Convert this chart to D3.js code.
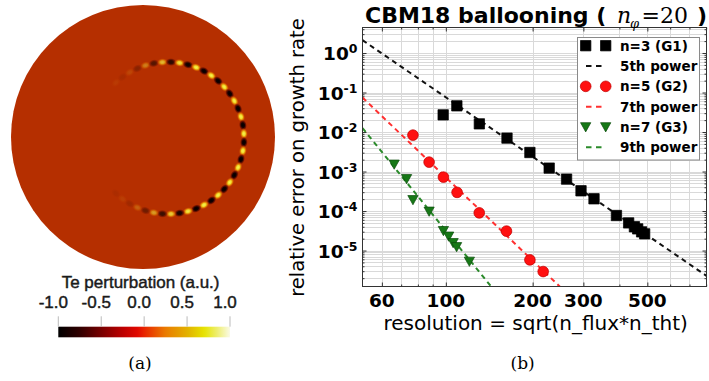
<!DOCTYPE html>
<html><head><meta charset="utf-8">
<script src="https://cdn.jsdelivr.net/npm/d3@7"></script>
<style>html,body{margin:0;padding:0;background:#fff;}svg{display:block;}</style>
</head><body>
<svg id="chart" width="709" height="381"></svg>
<script>
// ================= DATA =================
// panel (b): relative error on growth rate vs resolution
const seriesNames = ["n=3 (G1)", "n=5 (G2)", "n=7 (G3)"];
const fitNames = ["5th power", "7th power", "9th power"];
const g1Res = [97.9, 109.2, 130.7, 163, 195.7, 228.3, 262.3, 294.4, 326.6, 390.7, 430.7, 451, 462.9, 477.7, 489.4];
const g1Err = [0.0272, 0.046, 0.0161, 0.00701, 0.00303, 0.00122, 0.000642, 0.000325, 0.000204, 7.7e-5, 5.0e-5, 4.0e-5, 3.54e-5, 2.97e-5, 2.65e-5];
const g2Res = [76.9, 87.5, 98.1, 109.4, 130.6, 162.3, 195.7, 217.6];
const g2Err = [0.00835, 0.00173, 0.000722, 0.000297, 9.0e-5, 3.1e-5, 5.8e-6, 2.94e-6];
const g3Res = [66.2, 73.1, 76.9, 87.5, 98.1, 102.3, 106.0, 109.0, 120.7];
const g3Err = [0.00152, 0.000653, 0.000192, 9.8e-5, 3.16e-5, 2.29e-5, 1.57e-5, 1.24e-5, 5.3e-6];
// dashed power-law guide lines (end points)
const fit5Res = [51.4, 802];  const fit5Err = [2.11, 2.29e-6];
const fit7Res = [51.4, 260];  const fit7Err = [0.0747, 8.9e-7];
const fit9Res = [51.4, 150];  const fit9Err = [0.01256, 8.3e-7];
const xDomain = [51.4, 802];
const yDomain = [1.23e-6, 4.42];
const xTickValues = [60, 100, 200, 300, 500];
const yTickExponents = [0, -1, -2, -3, -4, -5];

// panel (a): Te perturbation blobs along the ballooning ring (value per blob)
const blobValues = [0.06, -0.08, 0.12, -0.25, 0.4, -0.55, 0.7, -0.8, 0.9, -0.95,
  1, -1, 1, -1, 1, -1, 1, -1, 1, -1, 1, -1, 1, -1, 1, -1, 1, -1, 1, -1, 1, -1,
  0.95, -0.9, 0.8, -0.7, 0.55, -0.4, 0.25, -0.12, 0.08, -0.06];
const blobAngleRange = [-133.25, 133.25];
const cbarTicks = [-1, -0.5, 0, 0.5, 1];
const cbarLabels = ["-1.0", "-0.5", "0.0", "0.5", "1.0"];
const cmapValues = [-1, -0.75, -0.5, -0.25, -0.08, 0, 0.25, 0.5, 0.7, 0.85, 1];
const cmapColors = ["#000000", "#300000", "#780000", "#bc0000", "#e00800", "#e82400", "#ea7c00", "#e2b000", "#e6e400", "#eeee70", "#fafae6"];

// ================= DRAW =================
const svg = d3.select("#chart");
const defs = svg.append("defs");

// ---------- panel (a) ----------
const diskColor = "#b52f00";
svg.append("circle").attr("cx", 143).attr("cy", 137).attr("r", 132).attr("fill", diskColor);

const pos = defs.append("radialGradient").attr("id", "gpos");
[["0%", "#f8f25a", 1], ["35%", "#f0dc28", 1], ["65%", "#e68000", 0.75], ["100%", diskColor, 0]]
  .forEach(s => pos.append("stop").attr("offset", s[0]).attr("stop-color", s[1]).attr("stop-opacity", s[2]));
const neg = defs.append("radialGradient").attr("id", "gneg");
[["0%", "#000000", 1], ["40%", "#160000", 1], ["70%", "#5a0800", 0.7], ["100%", diskColor, 0]]
  .forEach(s => neg.append("stop").attr("offset", s[0]).attr("stop-color", s[1]).attr("stop-opacity", s[2]));

const ringC = [168, 138], ringR = 76;
const angle = d3.scaleLinear().domain([0, blobValues.length - 1]).range(blobAngleRange);
svg.append("g").selectAll("ellipse").data(blobValues).join("ellipse")
  .attr("transform", (v, i) => {
    const a = angle(i) * Math.PI / 180;
    return `translate(${ringC[0] + ringR * Math.cos(a)},${ringC[1] + ringR * Math.sin(a)}) rotate(${angle(i) + 90})`;
  })
  .attr("rx", 5.8).attr("ry", 4.2)
  .attr("fill", v => v > 0 ? "url(#gpos)" : "url(#gneg)")
  .attr("fill-opacity", v => Math.abs(v));

// colorbar
const cbFont = "Liberation Sans, Arial, sans-serif";
const cb = d3.scaleLinear().domain([-1, 1]).range([58.3, 230]);
const cmap = d3.scaleLinear().domain(cmapValues).range(cmapColors);
const lg = defs.append("linearGradient").attr("id", "cbar");
d3.range(0, 1.0001, 0.02).forEach(t => lg.append("stop").attr("offset", t).attr("stop-color", cmap(-1 + 2 * t)));
svg.append("rect").attr("x", cb(-1)).attr("y", 326.7).attr("width", cb(1) - cb(-1)).attr("height", 10.6).attr("fill", "url(#cbar)");
svg.append("g").selectAll("line").data(cbarTicks).join("line")
  .attr("x1", d => cb(d)).attr("x2", d => cb(d)).attr("y1", 316.3).attr("y2", 326.7)
  .attr("stroke", "#bbbbbb").attr("stroke-width", 1);
svg.append("g").selectAll("text").data(cbarTicks).join("text")
  .attr("x", d => cb(d) - 5).attr("y", 308.3).attr("text-anchor", "middle")
  .attr("font-family", cbFont).attr("font-size", 17).attr("fill", "#1a1a1a")
  .attr("stroke", "#1a1a1a").attr("stroke-width", 0.45)
  .text((d, i) => cbarLabels[i]);
svg.append("text").attr("x", 61.7).attr("y", 288.3)
  .attr("font-family", cbFont).attr("font-size", 17).attr("fill", "#1a1a1a")
  .attr("stroke", "#1a1a1a").attr("stroke-width", 0.45)
  .text("Te perturbation (a.u.)");
svg.append("text").attr("x", 140).attr("y", 369).attr("text-anchor", "middle")
  .attr("font-family", "DejaVu Serif, serif").attr("font-size", 17).text("(a)");

// ---------- panel (b) ----------
const L = 362.5, R = 706.5, T = 27.5, B = 286.5;
const x = d3.scaleLog().domain(xDomain).range([L, R]);
const y = d3.scaleLog().domain(yDomain).range([B, T]);

defs.append("clipPath").attr("id", "plotclip").append("rect")
  .attr("x", L).attr("y", T).attr("width", R - L).attr("height", B - T);

svg.append("rect").attr("x", L).attr("y", T).attr("width", R - L).attr("height", B - T).attr("fill", "#fff");

// grid
const gx = x.ticks(), gy = y.ticks();
const grid = svg.append("g").attr("stroke", "#d9d9d9").attr("stroke-width", 1);
grid.selectAll("line.gx").data(gx).join("line").attr("class", "gx")
  .attr("x1", d => Math.round(x(d)) + 0.5).attr("x2", d => Math.round(x(d)) + 0.5).attr("y1", T).attr("y2", B);
grid.selectAll("line.gy").data(gy).join("line").attr("class", "gy")
  .attr("y1", d => Math.round(y(d)) + 0.5).attr("y2", d => Math.round(y(d)) + 0.5).attr("x1", L).attr("x2", R);

// inward ticks on all four sides via d3 axes
const isDecade = d => Math.abs(Math.log10(d) - Math.round(Math.log10(d))) < 1e-6;
function tickAxis(axisFn, scale, vals, len, tr) {
  const g = svg.append("g").attr("transform", tr)
    .call(axisFn(scale).tickValues(vals).tickSize(-len).tickFormat(""));
  g.select(".domain").remove();
  g.selectAll(".tick line").attr("stroke", "#333");
}
const xMaj = gx.filter(d => isDecade(d) || xTickValues.includes(d)), xMin = gx.filter(d => !xMaj.includes(d));
const yMaj = gy.filter(isDecade), yMin = gy.filter(d => !isDecade(d));
tickAxis(d3.axisBottom, x, xMaj, 4, `translate(0,${B})`);
tickAxis(d3.axisBottom, x, xMin, 2, `translate(0,${B})`);
tickAxis(d3.axisTop, x, xMaj, 4, `translate(0,${T})`);
tickAxis(d3.axisTop, x, xMin, 2, `translate(0,${T})`);
tickAxis(d3.axisLeft, y, yMaj, 4, `translate(${L},0)`);
tickAxis(d3.axisLeft, y, yMin, 2, `translate(${L},0)`);
tickAxis(d3.axisRight, y, yMaj, 4, `translate(${R},0)`);
tickAxis(d3.axisRight, y, yMin, 2, `translate(${R},0)`);

// fit lines
const line = d3.line().x(d => x(d[0])).y(d => y(d[1]));
const fits = [
  [d3.zip(fit5Res, fit5Err), "#111111"],
  [d3.zip(fit7Res, fit7Err), "#ff3030"],
  [d3.zip(fit9Res, fit9Err), "#2a8a2a"]
];
const plot = svg.append("g").attr("clip-path", "url(#plotclip)");
fits.forEach(f => plot.append("path").attr("d", line(f[0])).attr("fill", "none")
  .attr("stroke", f[1]).attr("stroke-width", 2).attr("stroke-dasharray", "5,4"));

// markers
const triDown = { draw(ctx, size) { const h = Math.sqrt(size); ctx.moveTo(-h / 2, -h * 0.42); ctx.lineTo(h / 2, -h * 0.42); ctx.lineTo(0, h * 0.48); ctx.closePath(); } };
const series = [
  { xs: g1Res, ys: g1Err, sym: d3.symbolSquare, size: 108, fill: "#000000", stroke: "#000000" },
  { xs: g2Res, ys: g2Err, sym: d3.symbolCircle, size: 90, fill: "#ff1010", stroke: "#c00000" },
  { xs: g3Res, ys: g3Err, sym: triDown, size: 105, fill: "#167816", stroke: "#0c4c0c" }
];
series.forEach(s => {
  plot.append("g").selectAll("path").data(d3.zip(s.xs, s.ys)).join("path")
    .attr("transform", d => `translate(${x(d[0])},${y(d[1])})`)
    .attr("d", d3.symbol(s.sym, s.size)())
    .attr("fill", s.fill).attr("stroke", s.stroke).attr("stroke-width", 0.7);
});

// frame
svg.append("rect").attr("x", L).attr("y", T).attr("width", R - L).attr("height", B - T)
  .attr("fill", "none").attr("stroke", "#333").attr("stroke-width", 1);

// tick labels
const sansB = "DejaVu Sans, sans-serif";
svg.append("g").selectAll("text").data(xTickValues).join("text")
  .attr("x", d => x(d)).attr("y", 306.7).attr("text-anchor", "middle")
  .attr("font-family", sansB).attr("font-weight", "bold").attr("font-size", 18.5).text(d => d);
const yl = svg.append("g").selectAll("text").data(yTickExponents).join("text")
  .attr("x", 357.5).attr("y", e => y(Math.pow(10, e)) + 7).attr("text-anchor", "end")
  .attr("font-family", sansB).attr("font-weight", "bold");
yl.append("tspan").attr("font-size", 18.5).text("10");
yl.append("tspan").attr("font-size", 12.5).attr("dy", -7).text(e => String(e));

// axis titles
svg.append("text").attr("transform", "translate(304,157.5) rotate(-90)").attr("text-anchor", "middle")
  .attr("font-family", sansB).attr("font-size", 19.6).text("relative error on growth rate");
svg.append("text").attr("x", 535.7).attr("y", 330).attr("text-anchor", "middle")
  .attr("font-family", sansB).attr("font-size", 20).text("resolution = sqrt(n_flux*n_tht)");

// title: bold sans part + math part (n_phi = 20)
const serif = "DejaVu Serif, serif";
const title = svg.append("text").attr("x", 365).attr("y", 22.7).attr("font-size", 22);
title.append("tspan").attr("font-family", sansB).attr("font-weight", "bold").text("CBM18 ballooning (");
title.append("tspan").attr("x", 617).attr("font-family", serif).attr("font-style", "italic").text("n");
title.append("tspan").attr("x", 630).attr("dy", 5.5).attr("font-family", serif).attr("font-style", "italic")
  .attr("font-size", 13).text("φ");
title.append("tspan").attr("x", 641.5).attr("dy", -5.5).attr("font-family", serif).text("=20");
title.append("tspan").attr("x", 697).attr("font-family", sansB).attr("font-weight", "bold").text(")");

// legend
const leg = svg.append("g");
leg.append("rect").attr("x", 577.5).attr("y", 37.5).attr("width", 122).attr("height", 122.5)
  .attr("fill", "#fff").attr("stroke", "#8a8a8a").attr("stroke-width", 1);
const rowY = d3.scaleLinear().domain([0, 5]).range([45.7, 147.3]);
const legItems = [
  { label: seriesNames[0], s: series[0] }, { label: fitNames[0], c: fits[0][1] },
  { label: seriesNames[1], s: series[1] }, { label: fitNames[1], c: fits[1][1] },
  { label: seriesNames[2], s: series[2] }, { label: fitNames[2], c: fits[2][1] }
];
legItems.forEach((it, i) => {
  const cy = rowY(i);
  if (it.s) {
    [585.7, 605.7].forEach(cx => leg.append("path").attr("transform", `translate(${cx},${cy})`)
      .attr("d", d3.symbol(it.s.sym, it.s.size)()).attr("fill", it.s.fill).attr("stroke", it.s.stroke).attr("stroke-width", 0.7));
  } else {
    leg.append("line").attr("x1", 586).attr("x2", 602).attr("y1", cy).attr("y2", cy)
      .attr("stroke", it.c).attr("stroke-width", 2).attr("stroke-dasharray", "5.5,4.5");
  }
  leg.append("text").attr("x", 620).attr("y", cy + 5).attr("font-family", sansB).attr("font-weight", "bold")
    .attr("font-size", 13.5).text(it.label);
});

svg.append("text").attr("x", 522.7).attr("y", 369).attr("text-anchor", "middle")
  .attr("font-family", serif).attr("font-size", 17).text("(b)");
</script>
</body></html>
